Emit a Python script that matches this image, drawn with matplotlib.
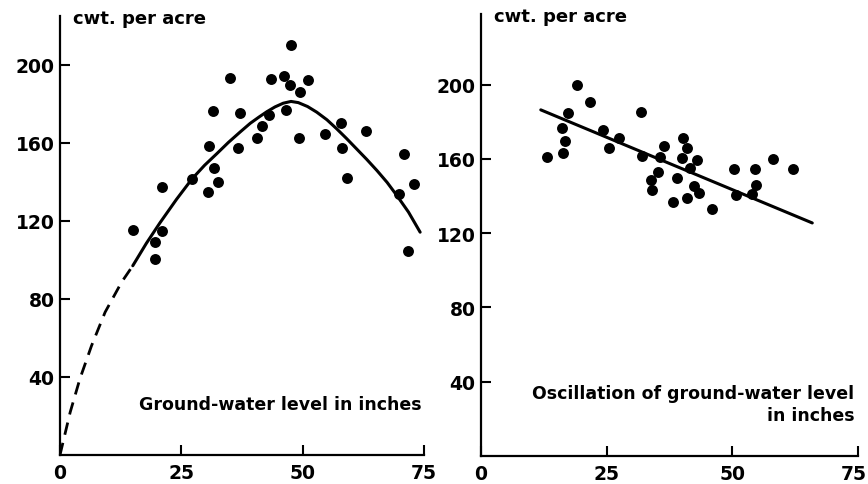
import numpy as np
import matplotlib
matplotlib.use("Agg")
import matplotlib.pyplot as plt
import matplotlib.transforms as mtransforms

# left panel: ground-water level (inches) vs yield (cwt. per acre)
level_x = [47.6, 35.1, 43.4, 46.2, 51.1, 47.4, 49.4, 46.5, 31.6, 37.1, 43.0, 41.6,
           40.5, 49.2, 30.6, 36.6, 31.8, 32.6, 30.4, 27.2, 21.1, 15.0, 21.0, 19.6,
           19.6, 57.8, 54.7, 63.1, 58.1, 59.1, 70.8, 73.0, 69.9, 71.6]
level_y = [209.9, 193.2, 192.8, 194.2, 192.3, 189.4, 186.0, 176.9, 176.1, 175.4, 174.0, 168.6,
           162.6, 162.4, 158.6, 157.4, 147.3, 139.8, 135.0, 141.5, 137.3, 115.2, 114.9, 109.1,
           100.2, 170.1, 164.4, 165.8, 157.3, 141.9, 154.5, 139.0, 133.8, 104.3]

# fitted curve
fit_x = [15.0, 17.8, 20.6, 24.0, 27.2, 29.8, 32.3, 34.7, 37.1, 39.2, 41.0, 42.6, 44.3,
         46.0, 47.6, 49.1, 51.0, 52.9, 55.0, 57.0, 59.0, 61.1, 63.2, 65.3, 67.4, 69.4, 71.8, 74.2]
fit_y = [97.0, 108.5, 119.0, 131.0, 141.5, 148.5, 154.4, 160.2, 165.5, 170.0, 173.2, 175.9, 178.4,
         180.3, 181.2, 180.6, 178.6, 175.7, 171.8, 167.2, 162.3, 156.9, 151.5, 145.8, 139.7, 133.0, 124.5, 114.2]
extrap_x = [0.0, 2.1, 4.1, 6.5, 9.3, 12.7, 15.0]
extrap_y = [0.0, 21.9, 39.0, 56.0, 73.2, 88.6, 97.0]

# right panel: oscillation of ground-water level vs yield
osc_x = [19.2, 21.7, 17.4, 31.8, 16.1, 24.2, 16.8, 27.4, 16.3, 13.1, 25.5, 32.0,
         40.1, 36.5, 41.0, 35.6, 40.0, 43.0, 41.6, 35.3, 33.9, 38.9, 34.0, 42.4,
         43.3, 38.1, 41.0, 45.9, 50.4, 54.6, 58.0, 62.1, 54.8, 50.7, 53.9]
osc_y = [199.9, 190.9, 184.8, 185.5, 176.7, 175.3, 169.9, 171.2, 163.1, 160.9, 165.8, 161.8,
         171.5, 167.0, 166.1, 160.9, 160.4, 159.5, 155.2, 152.9, 148.5, 149.8, 143.3, 145.6,
         141.7, 137.0, 139.2, 133.2, 154.3, 154.6, 159.9, 154.8, 146.0, 140.6, 141.2]
reg_x = [11.9, 65.9]
reg_y = [186.4, 125.5]

x_ticks = [0, 25, 50, 75]
y_ticks = [40, 80, 120, 160, 200]

plt.rcParams['font.family'] = ['DejaVu Sans']
plt.rcParams['font.weight'] = 'bold'

fig = plt.figure(figsize=(8.68, 4.85), dpi=100)
ax1 = fig.add_axes([0.0691, 0.0598, 0.4194, 0.9052])
ax2 = fig.add_axes([0.5541, 0.0577, 0.4344, 0.9113])


def style(ax, ytop):
    ax.set_xlim(0, 75)
    ax.set_ylim(0, ytop)
    ax.spines['top'].set_visible(False)
    ax.spines['right'].set_visible(False)
    for s in ('left', 'bottom'):
        ax.spines[s].set_linewidth(1.6)
    ax.set_xticks(x_ticks)
    ax.set_yticks(y_ticks)
    ax.tick_params(direction='in', length=7, width=1.5, labelsize=13.5, pad=4)
    ax.tick_params(axis='x', pad=6)
    for lab in ax.get_xticklabels() + ax.get_yticklabels():
        lab.set_fontweight('bold')
    ax.text(0.035, 0.995, "cwt. per acre", transform=ax.transAxes, fontsize=13,
            fontweight='bold', ha='left', va='center', clip_on=False)


style(ax1, 225)
ax1.scatter(level_x, level_y, s=62, color='black', zorder=3, linewidths=0)
ax1.plot(fit_x, fit_y, color='black', lw=2.2, solid_capstyle='round', solid_joinstyle='round')
ax1.plot(extrap_x, extrap_y, color='black', lw=2.0, dashes=(4.5, 3))
ax1.text(74.5, 26, "Ground-water level in inches", fontsize=12.5, fontweight='bold',
         ha='right', va='center')

style(ax2, 238)
ax2.scatter(osc_x, osc_y, s=62, color='black', zorder=3, linewidths=0)
ax2.plot(reg_x, reg_y, color='black', lw=2.2, solid_capstyle='round')
ax2.text(74.3, 28, "Oscillation of ground-water level\nin inches", fontsize=12.5,
         fontweight='bold', ha='right', va='center', multialignment='right',
         linespacing=1.25)

# last "75" sits right at the figure edge; nudge it in a little
fig.canvas.draw()
last = ax2.get_xticklabels()[-1]
last.set_transform(last.get_transform() + mtransforms.ScaledTranslation(-4 / 100, 0, fig.dpi_scale_trans))

fig.savefig("out.png", dpi=100)
